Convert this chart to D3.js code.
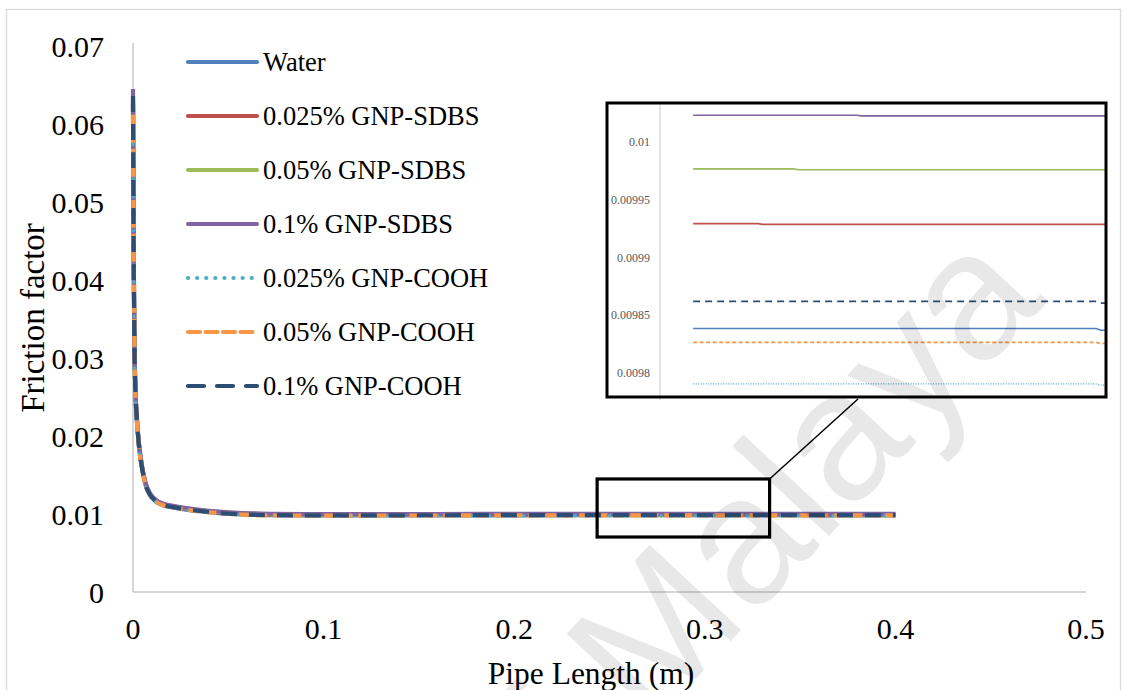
<!DOCTYPE html>
<html><head><meta charset="utf-8">
<script src="https://cdn.jsdelivr.net/npm/d3@7"></script>
<style>html,body{margin:0;padding:0;background:#fff;}svg{display:block;}</style>
</head><body>
<svg id="chart" width="1123" height="690"></svg>
<script>
// ---------------- DATA ----------------
const xGrid = [0, 0.0003, 0.0007, 0.0012, 0.002, 0.003, 0.0045, 0.0065, 0.009, 0.012, 0.016, 0.021, 0.027, 0.035, 0.045, 0.057, 0.072, 0.09, 0.12, 0.16, 0.2,
               0.2435, 0.258, 0.259, 0.266, 0.267, 0.28, 0.281, 0.3335, 0.3345, 0.4];

const water      = [0.0625, 0.0455, 0.0325, 0.0262, 0.0221, 0.0190, 0.0162, 0.0138, 0.0124, 0.0116, 0.0111, 0.01085, 0.0106, 0.01035, 0.01012, 0.00994, 0.00984, 0.00981, 0.00981, 0.00982, 0.00983,
                    0.0098385, 0.0098385, 0.0098385, 0.0098385, 0.0098385, 0.0098385, 0.0098385, 0.0098385, 0.009837, 0.009835];
const sdbs025    = [0.0628, 0.0459, 0.0328, 0.0264, 0.0223, 0.01917, 0.01635, 0.01393, 0.01251, 0.01171, 0.0112, 0.01095, 0.0107, 0.01045, 0.01021, 0.01003, 0.00993, 0.0099, 0.0099, 0.00991, 0.00992,
                    0.0099293, 0.0099293, 0.0099287, 0.0099287, 0.0099287, 0.0099287, 0.0099287, 0.0099287, 0.0099287, 0.009928];
const sdbs05     = [0.0632, 0.0461, 0.0330, 0.0266, 0.0224, 0.01927, 0.01643, 0.01399, 0.01257, 0.01176, 0.01126, 0.011, 0.01075, 0.01049, 0.01026, 0.01008, 0.00998, 0.00995, 0.00995, 0.00996, 0.00997,
                    0.0099767, 0.0099767, 0.0099767, 0.0099767, 0.009976, 0.009976, 0.009976, 0.009976, 0.009976, 0.0099758];
const sdbs1      = [0.0645, 0.0463, 0.0331, 0.0267, 0.0225, 0.01936, 0.0165, 0.01406, 0.01263, 0.01182, 0.01131, 0.01105, 0.0108, 0.01054, 0.01031, 0.01013, 0.01003, 0.00999, 0.00999, 0.01, 0.01001,
                    0.0100232, 0.0100232, 0.0100232, 0.0100232, 0.0100232, 0.0100232, 0.0100226, 0.0100226, 0.0100226, 0.010022];
const cooh025    = [0.0618, 0.0452, 0.0323, 0.0261, 0.0220, 0.01891, 0.01612, 0.01373, 0.01234, 0.01154, 0.01105, 0.0108, 0.01055, 0.0103, 0.01007, 0.00989, 0.00979, 0.00976, 0.00976, 0.00977, 0.00978,
                    0.0097905, 0.0097905, 0.0097905, 0.0097905, 0.0097905, 0.0097905, 0.0097905, 0.0097905, 0.0097895, 0.009789];
const cooh05     = [0.0612, 0.0454, 0.0325, 0.0262, 0.0221, 0.01898, 0.01618, 0.01378, 0.01239, 0.01159, 0.01109, 0.01084, 0.01059, 0.01034, 0.01011, 0.00993, 0.00983, 0.0098, 0.0098, 0.00981, 0.00982,
                    0.0098265, 0.0098265, 0.0098265, 0.0098265, 0.0098265, 0.0098265, 0.0098265, 0.0098265, 0.0098255, 0.009825];
const cooh1      = [0.0636, 0.0456, 0.0326, 0.0263, 0.0222, 0.01905, 0.01624, 0.01383, 0.01243, 0.01163, 0.01113, 0.01088, 0.01063, 0.01038, 0.01014, 0.00996, 0.00986, 0.00983, 0.00983, 0.00984, 0.00985,
                    0.009862, 0.009862, 0.009862, 0.009862, 0.009862, 0.009862, 0.009862, 0.009862, 0.0098605, 0.00986];

const seriesNames  = ["Water", "0.025% GNP-SDBS", "0.05% GNP-SDBS", "0.1% GNP-SDBS", "0.025% GNP-COOH", "0.05% GNP-COOH", "0.1% GNP-COOH"];
const seriesValues = [water, sdbs025, sdbs05, sdbs1, cooh025, cooh05, cooh1];

const xTicks = [0, 0.1, 0.2, 0.3, 0.4, 0.5];
const yTicks = [0, 0.01, 0.02, 0.03, 0.04, 0.05, 0.06, 0.07];
const insetTicks = [0.0098, 0.00985, 0.0099, 0.00995, 0.01];
const insetTickLabels = ["0.0098", "0.00985", "0.0099", "0.00995", "0.01"];
const zoomRange = {x0: 0.2435, x1: 0.334, y0: 0.00705, y1: 0.01449};

// ---------------- STYLE ----------------
const colors = ["#4F81BD", "#C0504D", "#9BBB59", "#8064A2", "#4BACC6", "#F79646", "#2C4D75"];
const mainDash = [null, null, null, null, "0.1 8.5", "11 6", "16 12"];
const insetDash = [null, null, null, null, "1 1.5", "4 2.5", "7 5"];
const legendDash = [null, null, null, null, "0.1 9", "12 5.5", "16 13"];
const serif = "'Liberation Serif','Times New Roman',serif";

const svg = d3.select("#chart");

// outer border
svg.append("rect").attr("x", 6.5).attr("y", 9.5).attr("width", 1114).attr("height", 700)
  .attr("fill", "#fff").attr("stroke", "#d9d9d9").attr("stroke-width", 1.3);

const x = d3.scaleLinear().domain([0, 0.5]).range([133, 1086]);
const y = d3.scaleLinear().domain([0, 0.07]).range([592, 46]);

// axes lines
svg.append("line").attr("x1", x(0)).attr("x2", x(0.5)).attr("y1", y(0)).attr("y2", y(0))
  .attr("stroke", "#c8c8c8").attr("stroke-width", 1.5);
svg.append("line").attr("x1", x(0)).attr("x2", x(0)).attr("y1", y(0)).attr("y2", y(0.07) - 3)
  .attr("stroke", "#c8c8c8").attr("stroke-width", 1.5);

// tick labels
svg.append("g").selectAll("text").data(yTicks).join("text")
  .attr("x", 104).attr("y", d => y(d)).attr("dy", "0.35em")
  .attr("text-anchor", "end").attr("font-family", serif).attr("font-size", 30).attr("fill", "#000")
  .text(d => d3.format("")(+d.toFixed(2)));
svg.append("g").selectAll("text").data(xTicks).join("text")
  .attr("x", d => x(d)).attr("y", 639)
  .attr("text-anchor", "middle").attr("font-family", serif).attr("font-size", 30).attr("fill", "#000")
  .text(d => d3.format("")(+d.toFixed(1)));

// axis titles
svg.append("text").attr("x", 591).attr("y", 684).attr("text-anchor", "middle")
  .attr("font-family", serif).attr("font-size", 31.5).text("Pipe Length (m)");
svg.append("text").attr("transform", "translate(44,318) rotate(-90)").attr("text-anchor", "middle")
  .attr("font-family", serif).attr("font-size", 33).text("Friction factor");

// main series
const lineMain = d3.line().x((d, i) => x(xGrid[i])).y(d => y(d)).curve(d3.curveMonotoneX);
const gMain = svg.append("g");
seriesValues.forEach((vals, k) => {
  gMain.append("path").attr("d", lineMain(vals)).attr("fill", "none")
    .attr("stroke", colors[k]).attr("stroke-width", k === 4 ? 3.5 : 4.2)
    .attr("stroke-linecap", k === 4 ? "round" : "butt")
    .attr("stroke-dasharray", mainDash[k]);
});

// legend
const lg = svg.append("g");
seriesNames.forEach((name, k) => {
  const yy = 62 + k * 54;
  lg.append("line").attr("x1", 188).attr("x2", 257).attr("y1", yy).attr("y2", yy)
    .attr("stroke", colors[k]).attr("stroke-width", 4.2)
    .attr("stroke-linecap", "round")
    .attr("stroke-dasharray", legendDash[k]);
  lg.append("text").attr("x", 263).attr("y", yy).attr("dy", "0.35em")
    .attr("font-family", serif).attr("font-size", 26.5).attr("fill", "#000").text(name);
});

// zoom box
svg.append("rect").attr("x", x(zoomRange.x0)).attr("y", y(zoomRange.y1))
  .attr("width", x(zoomRange.x1) - x(zoomRange.x0)).attr("height", y(zoomRange.y0) - y(zoomRange.y1))
  .attr("fill", "none").attr("stroke", "#000").attr("stroke-width", 3.2);

// inset
const F = {x: 607, y: 103, w: 499, h: 294};
svg.append("line").attr("x1", x(zoomRange.x1)).attr("y1", y(zoomRange.y1))
  .attr("x2", 858).attr("y2", F.y + F.h + 2).attr("stroke", "#000").attr("stroke-width", 1.5);
svg.append("rect").attr("x", F.x).attr("y", F.y).attr("width", F.w).attr("height", F.h).attr("fill", "#fff");
const ix = d3.scaleLinear().domain([0.2361, 0.335]).range([660, 1103]);
const iy = d3.scaleLinear().domain([0.0098, 0.01]).range([373, 142]);
svg.append("defs").append("clipPath").attr("id", "insetClip").append("rect")
  .attr("x", F.x).attr("y", F.y).attr("width", F.w - 1).attr("height", F.h);
svg.append("line").attr("x1", 660).attr("x2", 660).attr("y1", F.y).attr("y2", F.y + F.h + 3)
  .attr("stroke", "#c8c8c8").attr("stroke-width", 1);
svg.append("g").selectAll("text").data(insetTicks).join("text")
  .attr("x", 650).attr("y", d => iy(d)).attr("dy", "0.35em").attr("text-anchor", "end")
  .attr("font-family", serif).attr("font-size", 12).attr("fill", "#595959")
  .text((d, i) => insetTickLabels[i]);
const lineInset = d3.line().defined((d, i) => xGrid[i] >= 0.2435).x((d, i) => ix(xGrid[i])).y(d => iy(d));
const gIn = svg.append("g").attr("clip-path", "url(#insetClip)");
seriesValues.forEach((vals, k) => {
  gIn.append("path").attr("d", lineInset(vals)).attr("fill", "none")
    .attr("stroke", colors[k]).attr("stroke-width", k === 4 ? 1.3 : 1.6)
    .attr("stroke-dasharray", insetDash[k]);
});
svg.append("rect").attr("x", F.x).attr("y", F.y).attr("width", F.w).attr("height", F.h)
  .attr("fill", "none").attr("stroke", "#000").attr("stroke-width", 3);

// watermark
const wm = svg.append("g").attr("transform", "translate(648,730) rotate(-47)")
  .attr("font-family", "'Liberation Sans',Arial,sans-serif").attr("font-size", 182)
  .attr("fill", "#000").attr("fill-opacity", 0.09);
wm.append("text").attr("x", 0).attr("y", 0).attr("text-anchor", "start").text("Malaya");
wm.append("text").attr("x", -50).attr("y", 0).attr("text-anchor", "end").text("of");
</script>
</body></html>
